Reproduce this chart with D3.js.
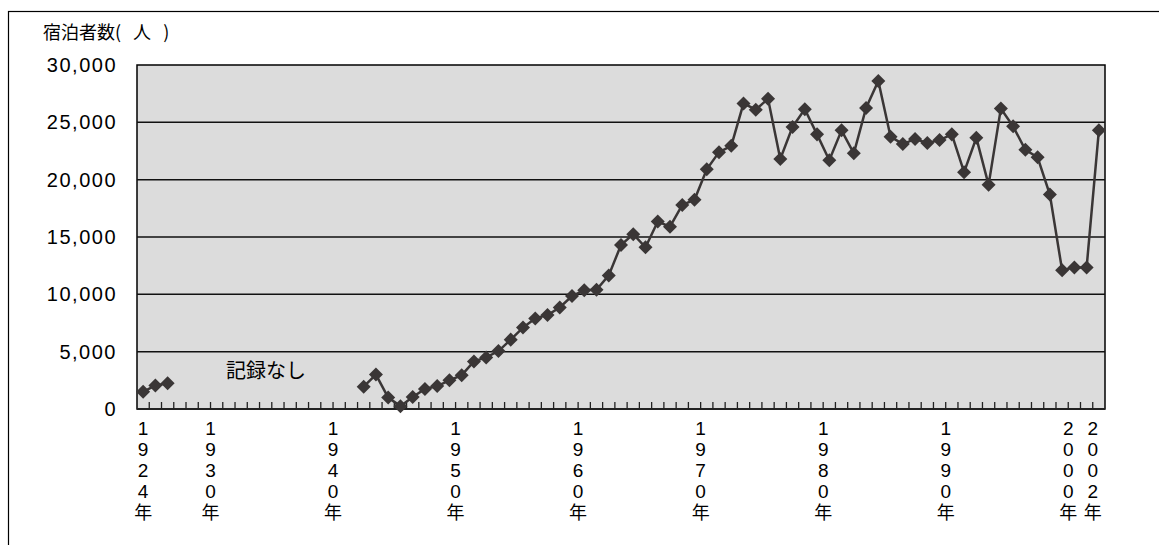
<!DOCTYPE html>
<html>
<head>
<meta charset="utf-8">
<script src="https://cdn.jsdelivr.net/npm/d3@7"></script>
<style>
  body { margin: 0; background: #fff; }
  svg text { font-family: "Liberation Sans", Arial, "Noto Sans CJK JP", sans-serif; fill: #000; }
  .jp { font-family: "Noto Sans CJK JP", sans-serif; }
</style>
</head>
<body>
<div id="chart-area"></div>
<script>
// categories: one per year
var years = [1924, 1925, 1926, 1927, 1928, 1929, 1930, 1931, 1932, 1933,
  1934, 1935, 1936, 1937, 1938, 1939, 1940, 1941, 1942, 1943,
  1944, 1945, 1946, 1947, 1948, 1949, 1950, 1951, 1952, 1953,
  1954, 1955, 1956, 1957, 1958, 1959, 1960, 1961, 1962, 1963,
  1964, 1965, 1966, 1967, 1968, 1969, 1970, 1971, 1972, 1973,
  1974, 1975, 1976, 1977, 1978, 1979, 1980, 1981, 1982, 1983,
  1984, 1985, 1986, 1987, 1988, 1989, 1990, 1991, 1992, 1993,
  1994, 1995, 1996, 1997, 1998, 1999, 2000, 2001, 2002];

// guests per year (null = no record)
var guests = [1500, 2050, 2250, null, null, null, null, null, null, null,
  null, null, null, null, null, null, null, null, 1950, 3000,
  1000, 250, 1050, 1750, 2000, 2500, 2950, 4150, 4500, 5050,
  6050, 7100, 7900, 8200, 8850, 9850, 10350, 10400, 11650, 14300,
  15250, 14100, 16350, 15900, 17800, 18250, 20900, 22400, 22950, 26650,
  26100, 27050, 21800, 24600, 26150, 23950, 21700, 24300, 22300, 26250,
  28600, 23750, 23100, 23550, 23200, 23450, 23950, 20650, 23650, 19550,
  26200, 24650, 22600, 21950, 18700, 12100, 12350, 12350, 24300];

var labelYears = [1924, 1930, 1940, 1950, 1960, 1970, 1980, 1990, 2000, 2002];
var yTicks = [0, 5000, 10000, 15000, 20000, 25000, 30000];

var width = 1159,
    height = 545;
var margin = {left: 137, right: 1105, top: 65, bottom: 409};

var data = years.map(function(y, i) { return {year: y, value: guests[i]}; });

var svg = d3.select("#chart-area").append("svg")
    .attr("width", width)
    .attr("height", height);

// outer frame (cut off on right / bottom)
svg.append("rect")
    .attr("x", 8.5).attr("y", 11.5)
    .attr("width", 1300).attr("height", 700)
    .attr("fill", "none").attr("stroke", "#000").attr("stroke-width", 1.2);

var x = d3.scaleBand()
    .domain(years)
    .range([margin.left, margin.right]);

var y = d3.scaleLinear()
    .domain([0, 30000])
    .range([margin.bottom, margin.top]);

// plot area
svg.append("rect")
    .attr("x", margin.left).attr("y", margin.top)
    .attr("width", margin.right - margin.left)
    .attr("height", margin.bottom - margin.top)
    .attr("fill", "#dcdcdc")
    .attr("stroke", "#000").attr("stroke-width", 1.5);

// gridlines
svg.selectAll(".grid")
    .data(yTicks.slice(1, -1))
    .enter().append("line")
    .attr("class", "grid")
    .attr("x1", margin.left).attr("x2", margin.right)
    .attr("y1", d => y(d)).attr("y2", d => y(d))
    .attr("stroke", "#111").attr("stroke-width", 1.5);

// y axis
var yAxis = svg.append("g")
    .attr("transform", "translate(" + margin.left + ",0)")
    .call(d3.axisLeft(y).tickValues(yTicks).tickFormat(d3.format(",")).tickSize(0).tickPadding(20));
yAxis.select(".domain").remove();
yAxis.selectAll("text")
    .attr("font-size", 20)
    .attr("font-family", "Liberation Sans, Arial, sans-serif")
    .style("letter-spacing", "1.5px");

// x axis line + minor ticks (inside)
svg.append("line")
    .attr("x1", margin.left).attr("x2", margin.right)
    .attr("y1", margin.bottom).attr("y2", margin.bottom)
    .attr("stroke", "#222").attr("stroke-width", 2);

svg.selectAll(".tick-x")
    .data(years.slice(1))
    .enter().append("line")
    .attr("class", "tick-x")
    .attr("x1", d => x(d)).attr("x2", d => x(d))
    .attr("y1", margin.bottom).attr("y2", margin.bottom - 7)
    .attr("stroke", "#222").attr("stroke-width", 1.3);

// x labels, stacked vertically
var xl = svg.selectAll(".xlabel")
    .data(labelYears)
    .enter().append("text")
    .attr("class", "xlabel")
    .attr("text-anchor", "middle")
    .attr("font-size", 18.5);

xl.each(function(d) {
  var cx = Math.max(x(d), margin.left + x.bandwidth() / 2);
  var chars = String(d).split("").concat(["年"]);
  var t = d3.select(this);
  chars.forEach(function(c, i) {
    t.append("tspan")
      .attr("x", cx)
      .attr("y", 435 + i * 21)
      .attr("class", c == "年" ? "jp" : null)
      .attr("font-size", c == "年" ? 18 : 19)
      .text(c);
  });
});

// title
svg.append("text")
    .attr("class", "jp")
    .attr("x", 43).attr("y", 39)
    .attr("font-size", 18)
    .style("white-space", "pre")
    .style("word-spacing", "8px")
    .text("宿泊者数( 人 )");

// note for missing years
svg.append("text")
    .attr("class", "jp")
    .attr("x", 226).attr("y", 378)
    .attr("font-size", 20)
    .text("記録なし");

// line
var line = d3.line()
    .defined(d => d.value != null)
    .x(d => x(d.year) + x.bandwidth() / 2)
    .y(d => y(d.value));

svg.append("path")
    .datum(data)
    .attr("d", line)
    .attr("fill", "none")
    .attr("stroke", "#3a3636")
    .attr("stroke-width", 2.5);

// diamond markers
svg.selectAll(".pt")
    .data(data.filter(d => d.value != null))
    .enter().append("path")
    .attr("class", "pt")
    .attr("d", d3.symbol().type(d3.symbolDiamond2).size(125))
    .attr("transform", d => "translate(" + (x(d.year) + x.bandwidth() / 2) + "," + y(d.value) + ")")
    .attr("fill", "#3a3636");
</script>
</body>
</html>
